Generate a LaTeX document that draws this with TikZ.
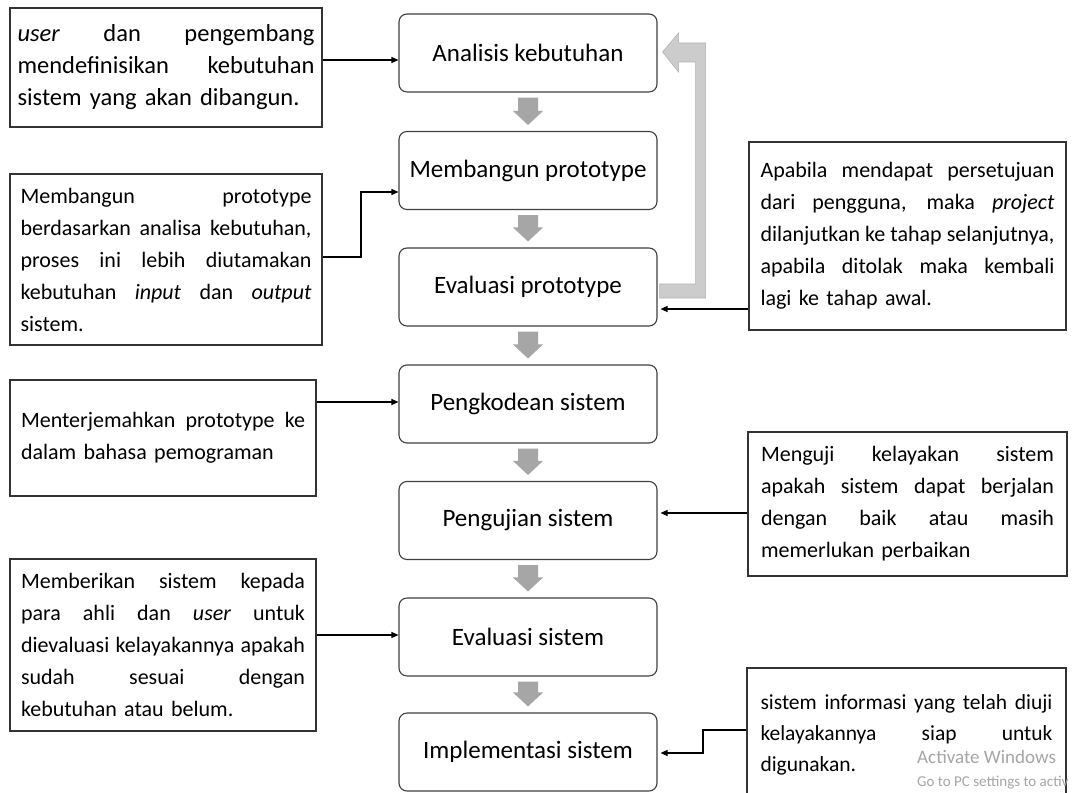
\documentclass[tikz,border=0pt]{standalone}
\usepackage{fontspec}
\setmainfont{Carlito}
\usetikzlibrary{arrows.meta,calc}
\newcommand{\jl}[1]{\makebox[\hsize][s]{\spaceskip=0pt\xspaceskip=0pt\relax #1}}
\newcommand{\flowarrow}[2]{\fill[flow] ($(#1.south)+(-10,5)$) -- ($(#1.south)+(10,5)$) -- ($(#2.north)+(10,-20)$) -- ($(#2.north)+(15,-20)$) -- ($(#2.north)+(0,-6)$) -- ($(#2.north)+(-15,-20)$) -- ($(#2.north)+(-10,-20)$) -- cycle;}
\begin{document}
\begin{tikzpicture}[x=1pt,y=-1pt,
  stage/.style={draw=black!75,line width=1.1pt,rounded corners=8pt,minimum width=258pt,minimum height=78pt,inner sep=0pt,font=\fontsize{25}{30}\selectfont},
  note/.style={draw=black!80,line width=1.1pt,inner sep=0pt,align=left,font=\fontsize{22}{32}\selectfont},
  conn/.style={line width=1.2pt,-{Triangle[length=7pt,width=6pt]}},
  flow/.style={fill=black!35},
  back/.style={fill=black!20,draw=black!30,line width=0.6pt},
  wm/.style={text=black!35,inner sep=0pt,anchor=west}]
\useasboundingbox (0,0) rectangle (1086,792);
\fill[white] (0,0) rectangle (1086,792);
% stages
\node[stage] (A) at (528,53) {Analisis kebutuhan};
\node[stage] (B) at (528,170.5) {Membangun prototype};
\node[stage] (C) at (528,287) {Evaluasi prototype};
\node[stage] (D) at (528,404) {Pengkodean sistem};
\node[stage] (E) at (528,520.5) {Pengujian sistem};
\node[stage] (F) at (528,637) {Evaluasi sistem};
\node[stage] (G) at (528,752) {Implementasi sistem};
\flowarrow{A}{B}
\flowarrow{B}{C}
\flowarrow{C}{D}
\flowarrow{D}{E}
\flowarrow{E}{F}
\flowarrow{F}{G}
% feedback arrow
\filldraw[back] ($(C.east)+(2,-3)$) -- ($(C.east)+(38,-3)$) -- ($(A.east)+(38,9)$) -- ($(A.east)+(21,9)$) -- ($(A.east)+(21,19)$) -- ($(A.east)+(5,-1)$) -- ($(A.east)+(21,-20)$) -- ($(A.east)+(21,-10)$) -- ($(A.east)+(48,-10)$) -- ($(C.east)+(48,11)$) -- ($(C.east)+(2,11)$) -- cycle;
% left notes
\node[note,font=\fontsize{24.5}{32}\selectfont,minimum width=312pt,minimum height=119pt,text width=297pt] (L1) at (166,67.5) {\jl{\textit{user} dan pengembang}\\\jl{mendefinisikan kebutuhan}\\sistem yang akan dibangun.};
\node[note,minimum width=312pt,minimum height=171pt,text width=291pt] (L2) at (166,259.5) {\jl{Membangun prototype}\\\jl{berdasarkan analisa kebutuhan,}\\\jl{proses ini lebih diutamakan}\\\jl{kebutuhan \textit{input} dan \textit{output}}\\sistem.};
\node[note,minimum width=306pt,minimum height=116pt,text width=284pt] (L3) at (163,438) {\jl{Menterjemahkan prototype ke}\\dalam bahasa pemograman};
\node[note,minimum width=306pt,minimum height=172pt,text width=284pt] (L4) at (163,645) {\jl{Memberikan sistem kepada}\\\jl{para ahli dan \textit{user} untuk}\\\jl{dievaluasi kelayakannya apakah}\\\jl{sudah sesuai dengan}\\kebutuhan atau belum.};
% right notes
\node[note,minimum width=317pt,minimum height=188pt,text width=294pt] (R1) at (907.5,236) {\jl{Apabila mendapat persetujuan}\\\jl{dari pengguna, maka \textit{project}}\\\jl{dilanjutkan ke tahap selanjutnya,}\\\jl{apabila ditolak maka kembali}\\lagi ke tahap awal.};
\node[note,minimum width=319pt,minimum height=144pt,text width=293pt] (R2) at (907.5,504) {\jl{Menguji kelayakan sistem}\\\jl{apakah sistem dapat berjalan}\\\jl{dengan baik atau masih}\\memerlukan perbaikan};
\node[note,font=\fontsize{21.5}{31}\selectfont,minimum width=319pt,minimum height=134pt,text width=292pt] (R3) at (906.5,735) {\jl{sistem informasi yang telah diuji}\\\jl{kelayakannya siap untuk}\\digunakan.};
% connectors
\draw[conn] (L1.east |- 0,60) -- (A.west |- 0,60);
\draw[conn] (L2.east |- 0,257) -- (361,257) -- (361,192) -- (B.west |- 0,192);
\draw[conn] (L3.east |- 0,402) -- (D.west |- 0,402);
\draw[conn] (L4.east |- 0,635) -- (F.west |- 0,635);
\draw[conn] (R1.west |- 0,309) -- ($(C.east |- 0,309)+(3,0)$);
\draw[conn] (R2.west |- 0,513) -- ($(E.east |- 0,513)+(3,0)$);
\draw[conn] (R3.west |- 0,730) -- (703,730) -- (703,753) -- ($(G.east |- 0,753)+(3,0)$);
% watermark
\node[wm,font=\fontsize{19}{22}\selectfont] (wm1) at (917,757) {Activate Windows};
\node[wm,font=\fontsize{15}{18}\selectfont] (wm2) at (917,783) {Go to PC settings to activ};
\end{tikzpicture}
\end{document}
